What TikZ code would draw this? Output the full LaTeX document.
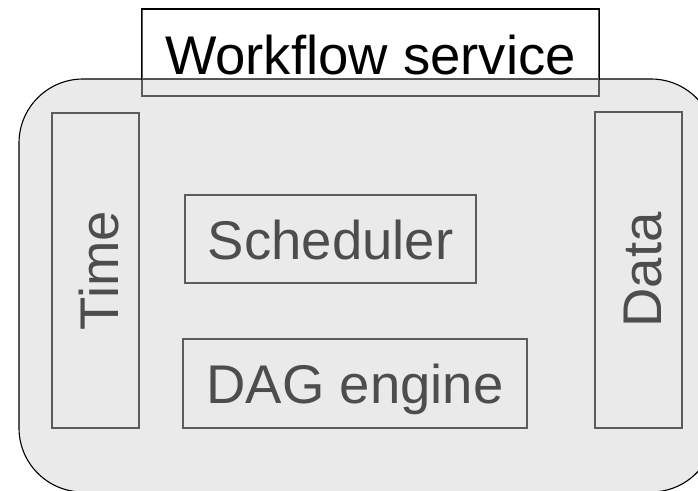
\documentclass[tikz,border=0pt]{standalone}
\usepackage{fontspec}
\setmainfont{Liberation Sans}
\definecolor{fillgray}{HTML}{EAEAEA}
\definecolor{linegray}{HTML}{5C5C5C}
\definecolor{textgray}{HTML}{4D4D4D}
\begin{document}
\begin{tikzpicture}[x=1pt,y=-1pt,
  bigfont/.style={font=\fontsize{54.5}{60}\selectfont},
  innerbox/.style={draw=linegray, line width=1.1pt, text=textgray, bigfont,
    text height=40pt, text depth=0pt, inner sep=0pt},
  vertbox/.style={innerbox, rotate=90, text height=46pt}]
\useasboundingbox (0,0) rectangle (698,490);
\clip (0,0) rectangle (698,490);
% outer service container
\node[draw=black, fill=fillgray, line width=1.1pt, rounded corners=64pt,
  minimum width=696pt, minimum height=413pt, inner sep=0pt] (svc) at (367,285.5) {};
% title box
\node[draw=linegray, line width=1.1pt, bigfont, text=black, inner sep=0pt,
  text height=44pt, text depth=0pt,
  minimum width=457pt, minimum height=86.5pt] (title) at (370.5,52.75) {Workflow service};
\begin{scope}
  \clip (0,0) rectangle (698,79);
  \draw[black, line width=1.1pt] (title.south west) rectangle (title.north east);
\end{scope}
% side boxes
\node[vertbox, minimum width=315pt, minimum height=87pt] (time) at (95.5,270.5) {Time};
\node[vertbox, minimum width=316pt, minimum height=87pt] (data) at (638.5,270) {Data};
% centre boxes
\node[innerbox, minimum width=291pt, minimum height=88pt] (sched) at (330.5,239) {Scheduler};
\node[innerbox, minimum width=344pt, minimum height=89pt] (dag) at (355,383.5) {DAG engine};
\end{tikzpicture}
\end{document}
